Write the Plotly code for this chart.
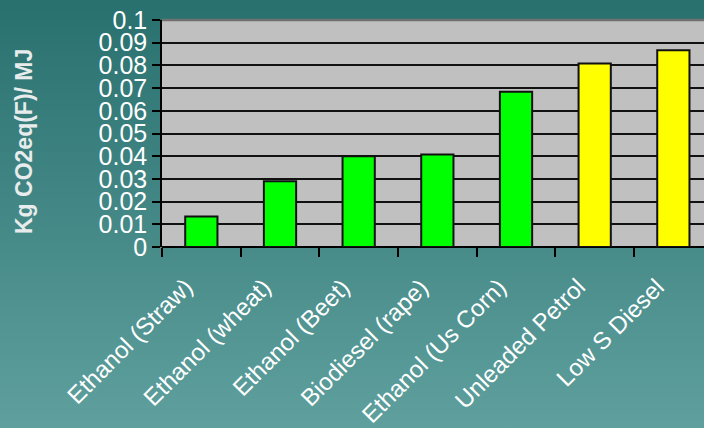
import base64
import plotly.graph_objects as go

categories = ["Ethanol (Straw)", "Ethanol (wheat)", "Ethanol (Beet)", "Biodiesel (rape)",
              "Ethanol (Us Corn)", "Unleaded Petrol", "Low S Diesel"]
values = [0.0134, 0.0290, 0.0400, 0.0407, 0.0684, 0.0808, 0.0867]
bar_colors = ["#00FF00", "#00FF00", "#00FF00", "#00FF00", "#00FF00", "#FFFF00", "#FFFF00"]
y_ticks = [0, 0.01, 0.02, 0.03, 0.04, 0.05, 0.06, 0.07, 0.08, 0.09, 0.1]
y_tick_text = ["0", "0.01", "0.02", "0.03", "0.04", "0.05", "0.06", "0.07", "0.08", "0.09", "0.1"]
y_title = "Kg CO2eq(F)/ MJ"

W, H = 704, 428
L, R, T, B = 162, 0, 20, 181
pw, ph = W - L - R, H - T - B
cat_w = 78.67

svg = ('<svg xmlns="http://www.w3.org/2000/svg" width="704" height="428">'
       '<defs><linearGradient id="g" x1="0" y1="0" x2="0" y2="1">'
       '<stop offset="0" stop-color="#28706E"/><stop offset="1" stop-color="#5FA09E"/>'
       '</linearGradient></defs><rect width="704" height="428" fill="url(#g)"/></svg>')
src = "data:image/svg+xml;base64," + base64.b64encode(svg.encode()).decode()

font_family = "Arial, Liberation Sans, sans-serif"

fig = go.Figure(go.Bar(
    x=categories, y=values, width=0.41,
    marker=dict(color=bar_colors, line=dict(color="#111111", width=2)),
))

annotations = [dict(text=y_title, xref="paper", yref="paper",
                    x=(24 - L) / pw, y=(H - B - 142) / ph,
                    xanchor="center", yanchor="middle", textangle=-90, showarrow=False,
                    font=dict(family=font_family, size=23, color="#E8ECEC", weight="bold"))]
for c in categories:
    annotations.append(dict(text=c, xref="x", yref="paper", x=c, y=0,
                            xanchor="right", yanchor="top", xshift=-3, yshift=-25,
                            textangle=-45, showarrow=False, borderpad=0,
                            font=dict(family=font_family, size=24, color="white")))

fig.update_layout(
    width=W, height=H,
    margin=dict(l=L, r=R, t=T, b=B, pad=0, autoexpand=False),
    paper_bgcolor="#448886",
    plot_bgcolor="#C0C0C0",
    showlegend=False,
    font=dict(family=font_family, color="white"),
    images=[dict(source=src, xref="paper", yref="paper",
                 x=-L / pw, y=1 + T / ph, sizex=W / pw, sizey=H / ph,
                 xanchor="left", yanchor="top", sizing="stretch", layer="below")],
    shapes=[
        dict(type="rect", xref="paper", yref="paper", x0=0, x1=1, y0=0, y1=1,
             fillcolor="#C0C0C0", line=dict(width=0), layer="below"),
        dict(type="line", xref="paper", yref="paper", x0=0, x1=1, y0=1, y1=1,
             line=dict(color="#707070", width=2.5), layer="above"),
    ],
    annotations=annotations,
)

fig.update_xaxes(
    range=[-0.5, -0.5 + pw / cat_w],
    tickson="boundaries", ticks="outside", ticklen=9, tickcolor="black", tickwidth=1.5,
    showticklabels=False,
    showline=False, showgrid=False, zeroline=False,
)
fig.update_yaxes(
    range=[0, 0.1], tickmode="array", tickvals=y_ticks, ticktext=y_tick_text,
    ticks="outside", ticklen=8, tickcolor="black", tickwidth=1.5,
    tickfont=dict(size=25, color="white", family=font_family),
    showgrid=True, gridcolor="#111111", gridwidth=1.5,
    showline=True, linecolor="black", linewidth=1.5,
    zeroline=True, zerolinecolor="black", zerolinewidth=1.5,
)

fig.write_html("out.html")
